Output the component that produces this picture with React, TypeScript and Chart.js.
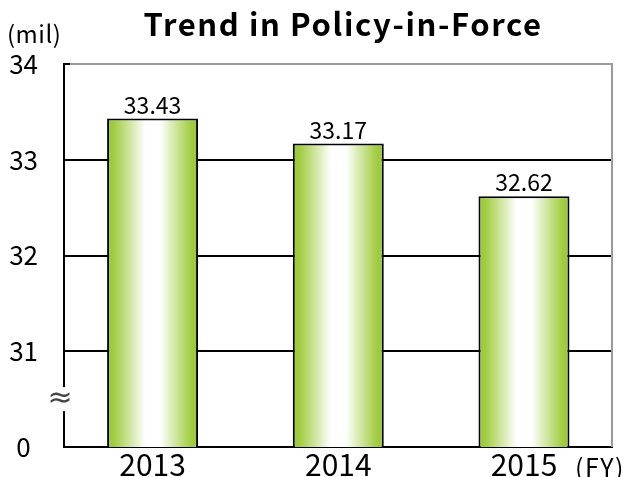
import React, { useEffect, useRef } from 'react';
import { Chart, registerables } from 'chart.js';

Chart.register(...registerables);

const categories = ['2013', '2014', '2015'];
const values = [33.43, 33.17, 32.62];
const valueLabels = ['33.43', '33.17', '32.62'];
const yTickValues = [30, 31, 32, 33, 34];
const yTickLabels = ['0', '31', '32', '33', '34'];
const breakValue = 30.5;
const xMin = -0.477;
const xMax = 2.474;
const title = 'Trend in Policy-in-Force';
const yUnit = '(mil)';
const xUnit = '(FY)';

const NUM_FONT = "'Noto Sans CJK JP', 'Noto Sans', sans-serif";
const TITLE_FONT = "'Noto Sans CJK JP', sans-serif";

const decor = {
  id: 'decor',
  beforeDatasetsDraw(chart: any) {
    const { ctx, chartArea: a } = chart;
    ctx.save();
    ctx.strokeStyle = '#9a9a9a';
    ctx.lineWidth = 2;
    ctx.beginPath();
    ctx.moveTo(a.left + 6, a.top);
    ctx.lineTo(a.right, a.top);
    ctx.lineTo(a.right, a.bottom);
    ctx.stroke();
    ctx.strokeStyle = '#000';
    ctx.beginPath();
    ctx.moveTo(a.left, a.top);
    ctx.lineTo(a.left + 6, a.top);
    ctx.stroke();
    ctx.restore();
  },
  afterDraw(chart: any) {
    const { ctx, chartArea: a } = chart;
    const meta = chart.getDatasetMeta(0);
    ctx.save();
    ctx.fillStyle = '#000';
    ctx.font = `23px ${NUM_FONT}`;
    ctx.textAlign = 'center';
    ctx.textBaseline = 'bottom';
    meta.data.forEach((el: any, i: number) => {
      ctx.fillText(valueLabels[i], el.x, el.y - 2);
    });
    // break mark
    const by = chart.scales.y.getPixelForValue(breakValue);
    ctx.fillStyle = '#fff';
    ctx.fillRect(a.left - 3, by - 12, 6, 24);
    ctx.fillStyle = '#444';
    ctx.font = `30px 'DejaVu Sans', sans-serif`;
    ctx.textAlign = 'center';
    ctx.textBaseline = 'middle';
    ctx.fillText('\u2248', a.left - 4, by);
    // title
    ctx.fillStyle = '#000';
    ctx.font = `bold 31px ${TITLE_FONT}`;
    (ctx as any).letterSpacing = '1.6px';
    ctx.textAlign = 'center';
    ctx.textBaseline = 'middle';
    ctx.fillText(title, 343, 24);
    // units
    ctx.font = `24px ${NUM_FONT}`;
    ctx.textAlign = 'left';
    (ctx as any).letterSpacing = '0.5px';
    ctx.fillText(yUnit, 7, 34);
    ctx.font = `25px ${NUM_FONT}`;
    (ctx as any).letterSpacing = '1.5px';
    ctx.fillText(xUnit, 575, 467);
    (ctx as any).letterSpacing = '0px';
    ctx.restore();
  },
};

export default function App() {
  const ref = useRef<HTMLCanvasElement>(null);
  useEffect(() => {
    const canvas = ref.current!;
    const chart = new Chart(canvas, {
      type: 'bar',
      data: {
        datasets: [
          {
            data: values.map((v, i) => ({ x: i, y: v })),
            backgroundColor: (c: any) => {
              const ch = c.chart;
              const xs = ch.scales?.x;
              const a = ch.chartArea;
              if (!xs || !a || c.dataIndex === undefined) return '#9ccc3c';
              const cx = xs.getPixelForValue(c.dataIndex);
              const w = xs.getPixelForValue(1) - xs.getPixelForValue(0);
              const half = (w * 0.49) / 2;
              const g = ch.ctx.createLinearGradient(cx - half, 0, cx + half, 0);
              g.addColorStop(0, '#98c832');
              g.addColorStop(0.08, '#a2cd44');
              g.addColorStop(0.42, '#ffffff');
              g.addColorStop(0.58, '#ffffff');
              g.addColorStop(0.92, '#a2cd44');
              g.addColorStop(1, '#98c832');
              return g;
            },
            borderColor: '#000',
            borderWidth: 2,
            barPercentage: 0.49,
            categoryPercentage: 1,
          },
        ],
      },
      options: {
        animation: false,
        responsive: false,
        maintainAspectRatio: false,
        layout: { padding: { top: 64, right: 17, left: 0, bottom: 0 } },
        plugins: {
          legend: { display: false },
          tooltip: { enabled: false },
          title: { display: false },
        },
        scales: {
          x: {
            type: 'linear',
            min: xMin,
            max: xMax,
            offset: false,
            afterBuildTicks(s: any) {
              s.ticks = categories.map((_, i) => ({ value: i }));
            },
            grid: { display: false, drawTicks: false },
            border: { display: true, color: '#000', width: 2 },
            ticks: {
              font: { family: NUM_FONT, size: 30 },
              color: '#000',
              padding: 0,
              autoSkip: false,
              maxRotation: 0,
              callback: (v: any) => categories[Number(v)] ?? '',
            },
            afterFit(s: any) {
              s.height = 30;
              s.paddingLeft = 0;
              s.paddingRight = 0;
            },
          },
          y: {
            min: 30,
            max: 34,
            afterBuildTicks(s: any) {
              s.ticks = yTickValues.map((v) => ({ value: v }));
            },
            ticks: {
              callback: (v: any) => {
                const i = yTickValues.indexOf(Number(v));
                return i >= 0 ? yTickLabels[i] : '';
              },
              font: { family: NUM_FONT, size: 26 },
              color: '#000',
              padding: 26,
              crossAlign: 'center',
            },
            grid: {
              color: (c: any) => (c.tick && (c.tick.value === 30 || c.tick.value === 34) ? 'rgba(0,0,0,0)' : '#000'),
              lineWidth: 2,
              drawTicks: false,
            },
            border: { color: '#000', width: 2 },
            afterFit(s: any) {
              s.width = 64;
              s.paddingTop = 0;
              s.paddingBottom = 0;
            },
          },
        },
      },
      plugins: [decor],
    } as any);
    return () => chart.destroy();
  }, []);
  return (
    <div style={{ position: 'absolute', left: 0, top: 0, width: 629, height: 477, background: '#fff' }}>
      <canvas ref={ref} width={629} height={477} />
    </div>
  );
}
